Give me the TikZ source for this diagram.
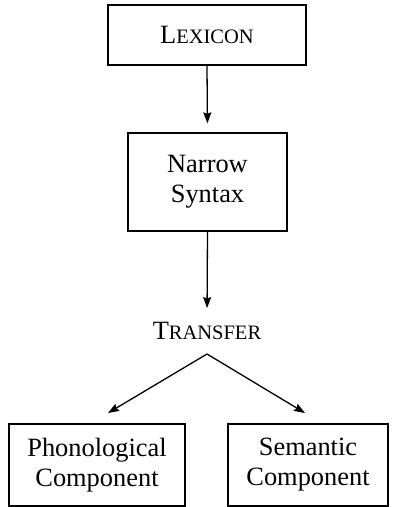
\documentclass[tikz,border=0pt]{standalone}
\usepackage{fontspec}
\setmainfont{Liberation Serif}
\usetikzlibrary{arrows.meta}
\newcommand{\fakesc}[2]{#1{\fontsize{20.5}{24}\selectfont #2}}
\begin{document}
\begin{tikzpicture}[x=1pt, y=1pt, line width=1.3pt,
  every node/.style={font=\fontsize{26.4}{30}\selectfont, align=center},
  stagebox/.style={draw, inner sep=0pt},
  flow/.style={-{Stealth[length=11pt, width=8pt, inset=1.5pt]}}]
  \useasboundingbox (0,0) rectangle (400,-507);
  \coordinate (fork) at (207,-354);
  \coordinate (phontip) at (108,-413);
  \coordinate (semtip) at (305,-413);
  \node[stagebox, minimum width=198, minimum height=60] (lexicon) at (207,-35) {\fakesc{L}{EXICON}};
  \node[stagebox, minimum width=159, minimum height=98] (syntax) at (207.5,-182) {Narrow\\Syntax};
  \node[inner sep=0pt, anchor=base] (transfer) at (207,-339) {\fakesc{T}{RANSFER}};
  \node[stagebox, minimum width=176, minimum height=82] (phon) at (97,-465) {Phonological\\Component};
  \node[stagebox, minimum width=160, minimum height=82] (sem) at (308,-465) {Semantic\\Component};
  \draw[flow, shorten >=9pt] (lexicon.south) -- (syntax.north);
  \draw[flow, shorten >=13pt] (syntax.south) -- (transfer.north);
  \draw[flow] (fork) -- (phontip);
  \draw[flow] (fork) -- (semtip);
\end{tikzpicture}
\end{document}
